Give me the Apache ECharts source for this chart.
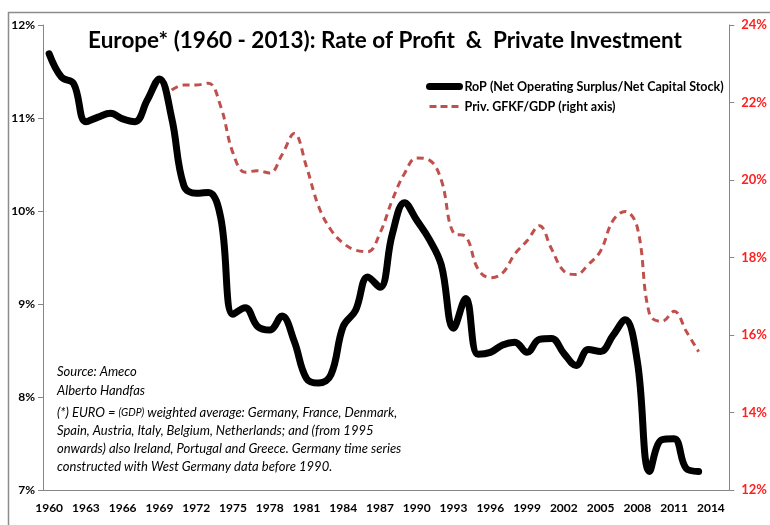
<!DOCTYPE html>
<html>
<head>
<meta charset="utf-8">
<title>Europe - Rate of Profit & Private Investment</title>
<script src="https://cdn.jsdelivr.net/npm/echarts@6/dist/echarts.min.js"></script>
<style>
    html, body { margin: 0; padding: 0; background: #fff; }
    #chart { width: 770px; height: 525px; }
</style>
</head>
<body>
<div id="chart"></div>
<script>
    /*数据源*/
    // 年份 (类目轴 1960 - 2015)
    const years = [];
    for (let y = 1960; y <= 2015; y++) years.push(String(y));

    // RoP (Net Operating Surplus/Net Capital Stock), %, 1960 - 2013
    const rop = [
        11.69, 11.44, 11.37, 10.96, 11.01, 11.05, 10.99, 10.96, 11.19, 11.42,
        11.00, 10.27, 10.19, 10.20, 9.93, 8.89, 8.96, 8.76, 8.72, 8.87,
        8.60, 8.20, 8.15, 8.24, 8.76, 8.93, 9.29, 9.18, 9.75, 10.09,
        9.90, 9.70, 9.42, 8.74, 9.06, 8.46, 8.48, 8.56, 8.59, 8.48,
        8.62, 8.63, 8.47, 8.34, 8.51, 8.49, 8.66, 8.83, 8.38, 7.20,
        7.54, 7.55, 7.23, 7.20
    ];

    // Priv. GFKF/GDP (right axis), %, 1970 - 2013
    const invest = [
        null, null, null, null, null, null, null, null, null, null,
        22.32, 22.45, 22.45, 22.50, 21.90, 20.70, 20.20, 20.24, 20.18, 20.65,
        21.20, 20.34, 19.31, 18.71, 18.37, 18.19, 18.15, 18.63, 19.48, 20.17,
        20.57, 20.52, 20.00, 18.63, 18.54, 17.70, 17.48, 17.60, 18.09, 18.43,
        18.82, 18.22, 17.65, 17.56, 17.82, 18.17, 18.95, 19.19, 18.77, 16.53,
        16.35, 16.61, 16.09, 15.57
    ];

    const ropName = 'RoP (Net Operating Surplus/Net Capital Stock)';
    const invName = 'Priv. GFKF/GDP (right axis)';
    const font = 'Lato';

    /*实例化echarts*/
    const chart = echarts.init(document.getElementById('chart'));

    /*配置项*/
    const option = {
        backgroundColor: '#fff',
        animation: false,
        title: {
            text: 'Europe* (1960 - 2013): Rate of Profit  &  Private Investment',
            left: 'center',
            top: 24,
            textStyle: { fontFamily: font, fontWeight: 'bold', fontSize: 22.5, color: '#000' }
        },
        legend: {
            orient: 'vertical',
            left: 421,
            top: 75,
            itemWidth: 30,
            itemHeight: 8,
            itemGap: 7,
            itemStyle: { opacity: 0 },
            textStyle: { fontFamily: font, fontWeight: 'bold', fontSize: 12.5, color: '#000' },
            data: [
                { name: ropName, lineStyle: { width: 7 } },
                { name: invName, lineStyle: { width: 3, type: [7, 4] } }
            ]
        },
        grid: { left: 43, right: 37, top: 25, bottom: 35 },
        xAxis: {
            type: 'category',
            data: years,
            axisLine: { lineStyle: { color: '#868686', width: 1 } },
            axisTick: { interval: 0, length: 4, lineStyle: { color: '#868686' } },
            axisLabel: {
                interval: 2,
                margin: 12,
                fontFamily: font, fontWeight: 'bold', fontSize: 12, color: '#000'
            }
        },
        yAxis: [
            {
                type: 'value',
                min: 7, max: 12, interval: 1,
                axisLine: { show: true, lineStyle: { color: '#868686' } },
                axisTick: { show: true, length: 5, lineStyle: { color: '#868686' } },
                splitLine: { show: false },
                axisLabel: {
                    formatter: '{value}%', margin: 8,
                    fontFamily: font, fontWeight: 'bold', fontSize: 12, color: '#000'
                }
            },
            {
                type: 'value',
                min: 12, max: 24, interval: 2,
                axisLine: { show: true, lineStyle: { color: '#868686' } },
                axisTick: { show: true, length: 5, lineStyle: { color: '#868686' } },
                splitLine: { show: false },
                axisLabel: {
                    formatter: '{value}%', margin: 12,
                    fontFamily: font, fontWeight: 'bold', fontSize: 13, color: '#ff2020'
                }
            }
        ],
        series: [
            {
                name: ropName,
                type: 'line',
                yAxisIndex: 0,
                data: rop,
                smooth: 0.4,
                symbol: 'none',
                lineStyle: { color: '#000', width: 7, cap: 'round', join: 'round' },
                itemStyle: { color: '#000' },
                z: 3
            },
            {
                name: invName,
                type: 'line',
                yAxisIndex: 1,
                data: invest,
                smooth: 0.4,
                symbol: 'none',
                lineStyle: { color: '#c0504d', width: 3, type: [7, 5] },
                itemStyle: { color: '#c0504d' },
                z: 2
            }
        ],
        graphic: [
            // 外框
            {
                type: 'rect',
                left: 6, top: 10,
                shape: { width: 800, height: 600 },
                style: { fill: 'none', stroke: '#8c8c8c', lineWidth: 1.5 },
                silent: true
            },
            {
                type: 'text',
                left: 57, top: 362,
                style: {
                    text: 'Source: Ameco\nAlberto Handfas',
                    font: 'italic 13px Lato', fill: '#000', lineHeight: 19
                }
            },
            {
                type: 'text',
                left: 57, top: 404,
                style: {
                    text: '(*) EURO = {s|(GDP)} weighted average: Germany, France, Denmark,\n' +
                          'Spain, Austria, Italy, Belgium, Netherlands; and (from 1995\n' +
                          'onwards) also Ireland, Portugal and Greece. Germany time series\n' +
                          'constructed with West Germany data before 1990.',
                    font: 'italic 13px Lato', fill: '#000', lineHeight: 18,
                    rich: { s: { font: 'italic 10.5px Lato', fill: '#000' } }
                }
            }
        ]
    };
    // 使用刚指定的配置项和数据显示图表。
    chart.setOption(option);
</script>
</body>
</html>
